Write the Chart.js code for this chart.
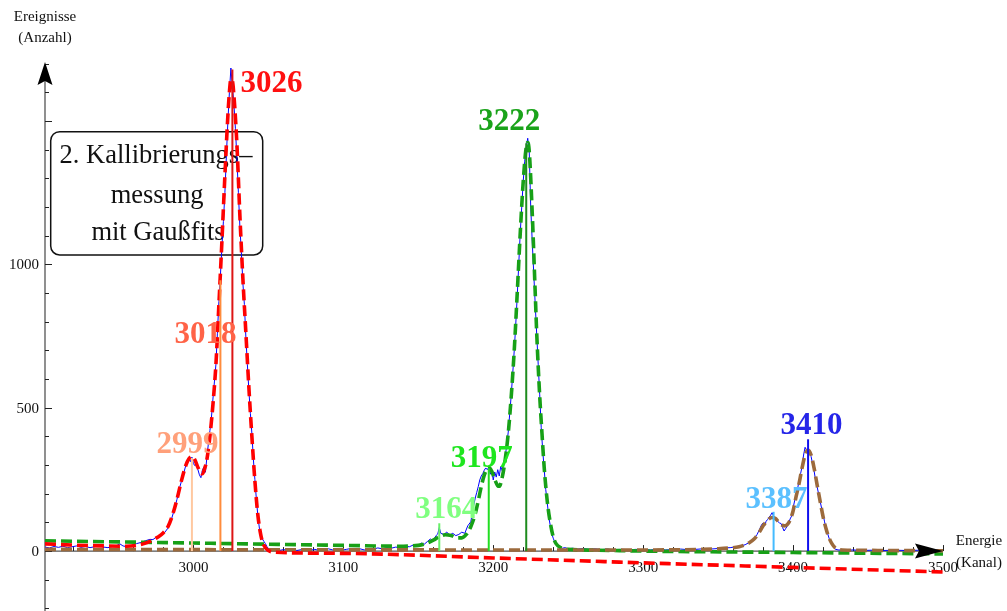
<!DOCTYPE html>
<html>
<head>
<meta charset="utf-8">
<script src="https://cdn.jsdelivr.net/npm/chart.js@4.4.1/dist/chart.umd.min.js"></script>
<style>
body{margin:0;background:#fff;}
#box{width:1007px;height:611px;}
</style>
</head>
<body>
<div id="box"><canvas id="spektrum"></canvas></div>
<script>
// Messdaten: [Kanal, Anzahl]
var messung = [
 [2901,14],[2904,11],[2907,16],[2910,13],[2913,17],[2916,12],[2919,15],[2922,18],[2925,13],[2928,16],
 [2931,12],[2934,15],[2937,19],[2940,14],[2943,12],[2946,16],[2949,20],[2951,25],[2953,18],[2956,15],
 [2959,20],[2962,26],[2965,30],[2968,36],[2971,41],[2973,40],[2975,48],[2977,47],[2979,56],[2981,66],
 [2983,80],[2985,105],[2987,140],[2989,180],[2991,225],[2993,262],[2995,300],[2996,306],[2997,322],[2998,312],
 [2999,328],[3000,305],[3001,298],[3002,310],[3003,284],[3004,266],[3005,256],[3006,282],[3007,294],[3008,275],
 [3009,328],[3010,376],[3011,420],[3012,465],[3013,530],[3014,590],[3015,650],[3016,760],[3017,870],[3018,960],
 [3019,1060],[3020,1150],[3021,1250],[3022,1380],[3023,1500],[3024,1600],[3025,1685],[3026,1620],[3027,1560],[3028,1475],
 [3029,1370],[3030,1250],[3031,1130],[3032,1040],[3033,935],[3034,860],[3035,745],[3036,650],[3037,560],[3038,480],
 [3039,410],[3040,320],[3041,250],[3042,180],[3043,122],[3044,80],[3045,55],[3046,42],[3047,34],[3048,26],
 [3049,16],[3050,9],[3052,4],[3054,7],[3057,2],[3060,5],[3063,3],[3066,7],[3069,2],[3072,5],
 [3075,8],[3078,3],[3081,6],[3084,2],[3087,5],[3090,8],[3093,4],[3096,7],[3099,3],[3102,6],
 [3105,9],[3108,5],[3111,8],[3114,4],[3117,9],[3120,7],[3123,11],[3126,8],[3129,12],[3132,10],
 [3135,14],[3138,11],[3141,17],[3144,15],[3147,22],[3150,19],[3152,28],[3154,24],[3156,33],[3158,42],
 [3160,38],[3162,55],[3163,60],[3164,82],[3165,62],[3167,58],[3169,66],[3171,56],[3173,62],[3175,54],
 [3177,58],[3179,66],[3181,62],[3183,88],[3185,102],[3186,130],[3187,160],[3188,185],[3189,205],[3190,225],
 [3191,248],[3192,262],[3193,270],[3194,282],[3195,290],[3196,284],[3197,292],[3198,268],[3199,282],[3200,248],
 [3201,276],[3202,258],[3203,284],[3204,262],[3205,295],[3206,280],[3207,305],[3208,330],[3209,370],[3210,415],
 [3211,480],[3212,545],[3213,620],[3214,700],[3215,790],[3216,890],[3217,1000],[3218,1110],[3219,1200],[3220,1290],
 [3221,1360],[3222,1410],[3223,1440],[3224,1395],[3225,1200],[3226,1080],[3227,970],[3228,860],[3229,755],[3230,650],
 [3231,545],[3232,430],[3233,350],[3234,285],[3235,215],[3236,170],[3237,120],[3238,90],[3239,62],[3240,45],
 [3241,32],[3242,22],[3244,14],[3246,10],[3248,12],[3250,8],[3253,10],[3256,7],[3260,9],[3264,6],
 [3268,8],[3272,5],[3276,7],[3280,5],[3285,6],[3290,4],[3295,6],[3300,5],[3305,4],[3310,6],
 [3315,4],[3320,5],[3325,7],[3330,5],[3335,6],[3340,8],[3345,7],[3350,9],[3354,11],[3358,12],
 [3362,15],[3365,18],[3368,22],[3370,28],[3372,35],[3374,44],[3376,58],[3378,80],[3379,92],[3380,98],
 [3381,88],[3382,104],[3383,110],[3384,118],[3385,125],[3386,134],[3387,122],[3388,113],[3389,108],[3390,102],
 [3391,98],[3392,96],[3393,82],[3394,70],[3395,78],[3396,86],[3397,95],[3398,112],[3399,122],[3400,150],
 [3401,175],[3402,195],[3403,218],[3404,245],[3405,270],[3406,295],[3407,335],[3408,362],[3409,352],[3410,345],
 [3411,352],[3412,330],[3413,305],[3414,280],[3415,248],[3416,225],[3417,200],[3418,175],[3419,150],[3420,128],
 [3421,102],[3422,80],[3423,62],[3424,45],[3425,32],[3426,22],[3427,13],[3428,7],[3430,4],[3434,3],
 [3440,4],[3446,2],[3452,3],[3460,2],[3468,3],[3476,2],[3484,3],[3492,2],[3500,2]
];

// Gaussfits (jeweils mit linearem Untergrund)
var fitRot = [
 [2901,25],[2920,21],[2940,18],[2955,17],[2962,20],[2967,26],[2972,36],[2976,48],[2980,64],[2983,85],
 [2986,125],[2989,180],[2992,245],[2995,300],[2997,322],[2999,330],[3001,318],[3003,292],[3005,272],[3006,270],
 [3007,280],[3009,320],[3011,400],[3013,510],[3015,650],[3017,860],[3019,1080],[3021,1310],[3023,1520],[3024,1600],
 [3025,1645],[3026,1640],[3027,1590],[3029,1420],[3031,1170],[3033,950],[3035,760],[3037,570],[3039,400],[3041,245],
 [3043,125],[3045,55],[3047,20],[3050,2],[3055,-4],[3100,-8],[3200,-24],[3300,-41],[3400,-57],[3500,-73]
];
var fitGruen = [
 [2901,36],[3000,28],[3050,24],[3100,20],[3140,17],[3150,20],[3155,26],[3160,38],[3164,50],[3168,57],
 [3172,54],[3176,46],[3179,46],[3182,58],[3185,85],[3188,130],[3190,175],[3192,225],[3194,265],[3196,288],
 [3197,292],[3199,278],[3201,250],[3203,228],[3204,226],[3206,258],[3208,320],[3210,411],[3212,540],[3214,700],
 [3216,900],[3218,1108],[3220,1290],[3222,1410],[3223,1425],[3224,1395],[3226,1180],[3228,900],[3229,759],[3231,540],
 [3232.5,411],[3234,290],[3236,175],[3238,100],[3240,50],[3242,25],[3245,12],[3250,6],[3270,3],[3300,0],
 [3400,-5],[3500,-10]
];
var fitBraun = [
 [2901,6],[3000,5],[3200,4],[3300,4],[3340,6],[3350,8],[3358,11],[3364,15],[3368,22],[3371,30],
 [3374,42],[3377,62],[3380,88],[3383,108],[3386,117],[3388,114],[3390,104],[3392,93],[3394,88],[3396,92],
 [3398,108],[3400,140],[3402,190],[3404,236],[3406,290],[3408,335],[3410,352],[3412,335],[3414,290],[3416,232],
 [3418,175],[3420,120],[3422,78],[3424,46],[3426,25],[3428,12],[3431,5],[3440,3],[3500,1]
];

// Peaklagen und Amplituden
var peakKanal = [2999, 3018, 3026, 3164, 3197, 3222, 3387, 3410];
var peakHoehe = [325, 945, 1680, 97, 289, 1423, 137, 390];

var xTicks = [3000, 3100, 3200, 3300, 3400, 3500];
var yTicks = [0, 500, 1000];

// Farben und Beschriftungsversatz (Pixel) je Peak
var linienFarbe = ['#ffc8a0', '#ff8c3c', '#dd1515', '#66f066', '#22dd22', '#1e8c1e', '#44bbff', '#1010ee'];
var textFarbe = ['#ffa07a', '#ff6347', '#ff1010', '#80ff80', '#1ee61e', '#1aa31a', '#5bc0ff', '#2525e8'];
var textVersatz = [[-4.5, -5], [-15, 63], [39, 22.5], [7, -5], [-7, -1.5], [-17, -13], [3, -4], [3.5, -5]];

function xy(arr){
	return arr.map(p => ({x: p[0], y: p[1]}));
}

var datasets = [];
datasets.push({
	data: xy(messung), borderColor: '#0000ff', borderWidth: 1,
	pointRadius: 0, tension: 0, order: 20
});
[[fitGruen, '#17a017', 12], [fitBraun, '#9c6a3c', 11], [fitRot, '#ff0000', 10]].forEach(f => {
	datasets.push({
		data: xy(f[0]), borderColor: f[1], borderWidth: 3.6, borderDash: [11, 5],
		pointRadius: 0, cubicInterpolationMode: 'monotone', order: f[2]
	});
});
peakKanal.forEach((k, i) => {
	datasets.push({
		data: [{x: k, y: 0}, {x: k, y: peakHoehe[i]}],
		borderColor: linienFarbe[i], borderWidth: 2, pointRadius: 0, order: 1
	});
});

var SERIF = '"Liberation Serif", "Times New Roman", serif';

var achsen = {
	id: 'achsen',
	beforeDatasetsDraw(chart){
		var ctx = chart.ctx, xs = chart.scales.x, ys = chart.scales.y;
		var x0 = xs.getPixelForValue(xs.min), y0 = ys.getPixelForValue(0);
		var xEnd = xs.getPixelForValue(3500);
		ctx.save();
		ctx.strokeStyle = '#555';
		ctx.lineWidth = 1.3;
		ctx.beginPath();
		ctx.moveTo(x0, chart.height);
		ctx.lineTo(x0, ys.getPixelForValue(ys.max) + 10);
		ctx.moveTo(x0, y0);
		ctx.lineTo(xEnd - 10, y0);
		ctx.stroke();

		// Striche
		ctx.strokeStyle = '#222';
		ctx.lineWidth = 1;
		ctx.beginPath();
		for(var k = 2920; k <= 3500; k += 20){
			var px = Math.round(xs.getPixelForValue(k)) + 0.5;
			var len = (k % 100 == 0) ? 6 : 4;
			ctx.moveTo(px, y0);
			ctx.lineTo(px, y0 - len);
		}
		for(var v = -200; v <= 1700; v += 100){
			var py = Math.round(ys.getPixelForValue(v)) + 0.5;
			var l = (v % 500 == 0) ? 7 : 4;
			ctx.moveTo(x0, py);
			ctx.lineTo(x0 + l, py);
		}
		ctx.stroke();

		ctx.fillStyle = '#111';
		ctx.font = '15px ' + SERIF;
		ctx.textAlign = 'center';
		ctx.textBaseline = 'alphabetic';
		xTicks.forEach(t => ctx.fillText(String(t), xs.getPixelForValue(t), y0 + 20.5));
		ctx.textAlign = 'right';
		yTicks.forEach(t => ctx.fillText(String(t), x0 - 6, ys.getPixelForValue(t) + 5));

		ctx.textAlign = 'center';
		ctx.fillText('Ereignisse', x0, 20.5);
		ctx.fillText('(Anzahl)', x0, 41.5);
		ctx.fillText('Energie', 979, 545);
		ctx.fillText('(Kanal)', 979, 567);

		// Infokasten
		ctx.strokeStyle = '#111';
		ctx.lineWidth = 1.5;
		ctx.beginPath();
		ctx.roundRect(50.7, 131.7, 212, 123.3, 9);
		ctx.stroke();
		ctx.font = '26.5px ' + SERIF;
		ctx.fillText('2. Kallibrierungs\u2013', 156, 163);
		ctx.fillText('messung', 157, 202.5);
		ctx.fillText('mit Gau\u00dffits', 158, 239.5);
		ctx.restore();
	},
	afterDatasetsDraw(chart){
		var ctx = chart.ctx, xs = chart.scales.x, ys = chart.scales.y;
		var x0 = xs.getPixelForValue(xs.min), y0 = ys.getPixelForValue(0);
		var xEnd = xs.getPixelForValue(3500), yTop = ys.getPixelForValue(ys.max);
		ctx.save();
		ctx.fillStyle = '#000';
		// Pfeilspitzen
		ctx.beginPath();
		ctx.moveTo(xEnd, y0);
		ctx.lineTo(xEnd - 28, y0 - 7.5);
		ctx.lineTo(xEnd - 24, y0);
		ctx.lineTo(xEnd - 28, y0 + 7.5);
		ctx.closePath();
		ctx.fill();
		ctx.beginPath();
		ctx.moveTo(x0, yTop);
		ctx.lineTo(x0 - 7.5, yTop + 23);
		ctx.lineTo(x0, yTop + 19);
		ctx.lineTo(x0 + 7.5, yTop + 23);
		ctx.closePath();
		ctx.fill();

		ctx.font = 'bold 31px ' + SERIF;
		ctx.textAlign = 'center';
		ctx.textBaseline = 'alphabetic';
		peakKanal.forEach((k, i) => {
			var px = xs.getPixelForValue(k), py = ys.getPixelForValue(peakHoehe[i]);
			ctx.fillStyle = textFarbe[i];
			ctx.fillText(String(k), px + textVersatz[i][0], py + textVersatz[i][1]);
		});
		ctx.restore();
	}
};

new Chart(document.getElementById('spektrum'), {
	type: 'line',
	data: {datasets: datasets},
	options: {
		responsive: true,
		maintainAspectRatio: false,
		animation: false,
		layout: {padding: {left: 45, right: 64, top: 62, bottom: 0}},
		scales: {
			x: {type: 'linear', min: 2901, max: 3500, display: false},
			y: {type: 'linear', min: -209, max: 1706, display: false}
		},
		plugins: {legend: {display: false}, tooltip: {enabled: false}}
	},
	plugins: [achsen]
});
</script>
</body>
</html>
